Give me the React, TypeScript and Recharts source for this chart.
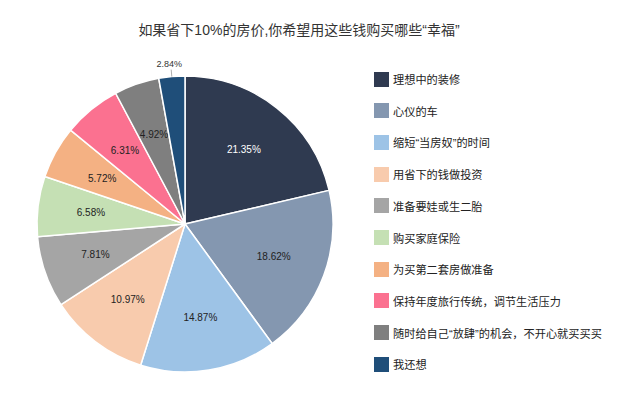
import React from 'react';
import { PieChart, Pie, Cell } from 'recharts';

const categories = [
  '理想中的装修',
  '心仪的车',
  '缩短“当房奴”的时间',
  '用省下的钱做投资',
  '准备要娃或生二胎',
  '购买家庭保险',
  '为买第二套房做准备',
  '保持年度旅行传统，调节生活压力',
  '随时给自己“放肆”的机会，不开心就买买买',
  '我还想',
];
const values = [21.35, 18.62, 14.87, 10.97, 7.81, 6.58, 5.72, 6.31, 4.92, 2.84];
const colors = [
  '#2f3a50', '#8497b0', '#9dc3e6', '#f8cbad', '#a5a5a5',
  '#c5e0b4', '#f4b183', '#fb7190', '#7f7f7f', '#1f4e79',
];
const title = '如果省下10%的房价,你希望用这些钱购买哪些“幸福”';

const data = categories.map((name, i) => ({ name, value: values[i] }));

const FONT = '"Liberation Sans", "Noto Sans CJK SC", sans-serif';
const RAD = Math.PI / 180;

const renderLabel = (props: any) => {
  const { cx, cy, midAngle, outerRadius, value, index } = props;
  const small = value < 3;
  if (small) {
    const sx = cx + outerRadius * Math.cos(-midAngle * RAD);
    const sy = cy + outerRadius * Math.sin(-midAngle * RAD);
    const ex = cx + (outerRadius + 7) * Math.cos(-midAngle * RAD);
    const ey = cy + (outerRadius + 7) * Math.sin(-midAngle * RAD);
    return (
      <g>
        <line x1={sx} y1={sy} x2={ex} y2={ey} stroke="#999" strokeWidth={0.8} />
        <text x={ex - 2} y={ey - 3} textAnchor="middle" fontSize={9} fill="#333" fontFamily={FONT}>
          {value.toFixed(2)}%
        </text>
      </g>
    );
  }
  const r = outerRadius * 0.64;
  const x = cx + r * Math.cos(-midAngle * RAD);
  const y = cy + r * Math.sin(-midAngle * RAD);
  return (
    <text
      x={x}
      y={y}
      textAnchor="middle"
      dominantBaseline="central"
      fontSize={10}
      fill={index === 0 ? '#ffffff' : '#222'}
      fontFamily={FONT}
    >
      {value.toFixed(2)}%
    </text>
  );
};

export default function App() {
  return (
    <div style={{ position: 'absolute', left: 0, top: 0, width: 640, height: 401, background: '#fff' }}>
      <div
        style={{
          position: 'absolute',
          left: 0,
          top: 19,
          width: 598,
          textAlign: 'center',
          fontSize: 14,
          color: '#333',
          fontFamily: FONT,
        }}
      >
        {title}
      </div>
      <PieChart width={640} height={401} margin={{ top: 0, right: 0, bottom: 0, left: 0 }}>
        <Pie
          data={data}
          dataKey="value"
          nameKey="name"
          cx={185}
          cy={224}
          outerRadius={148}
          startAngle={90}
          endAngle={-270}
          stroke="#ffffff"
          strokeWidth={1.5}
          label={renderLabel}
          labelLine={false}
          isAnimationActive={false}
        >
          {data.map((d, i) => (
            <Cell key={d.name} fill={colors[i]} />
          ))}
        </Pie>
      </PieChart>
      <div style={{ position: 'absolute', left: 374, top: 71, width: 266 }}>
        {categories.map((name, i) => (
          <div
            key={name}
            style={{
              position: 'absolute',
              left: 0,
              top: i * 31.7,
              height: 16,
              display: 'flex',
              alignItems: 'center',
              whiteSpace: 'nowrap',
            }}
          >
            <span style={{ width: 15, height: 15, background: colors[i], display: 'inline-block', marginRight: 4 }} />
            <span style={{ fontSize: 11.2, color: '#222', fontFamily: FONT }}>{name}</span>
          </div>
        ))}
      </div>
    </div>
  );
}
